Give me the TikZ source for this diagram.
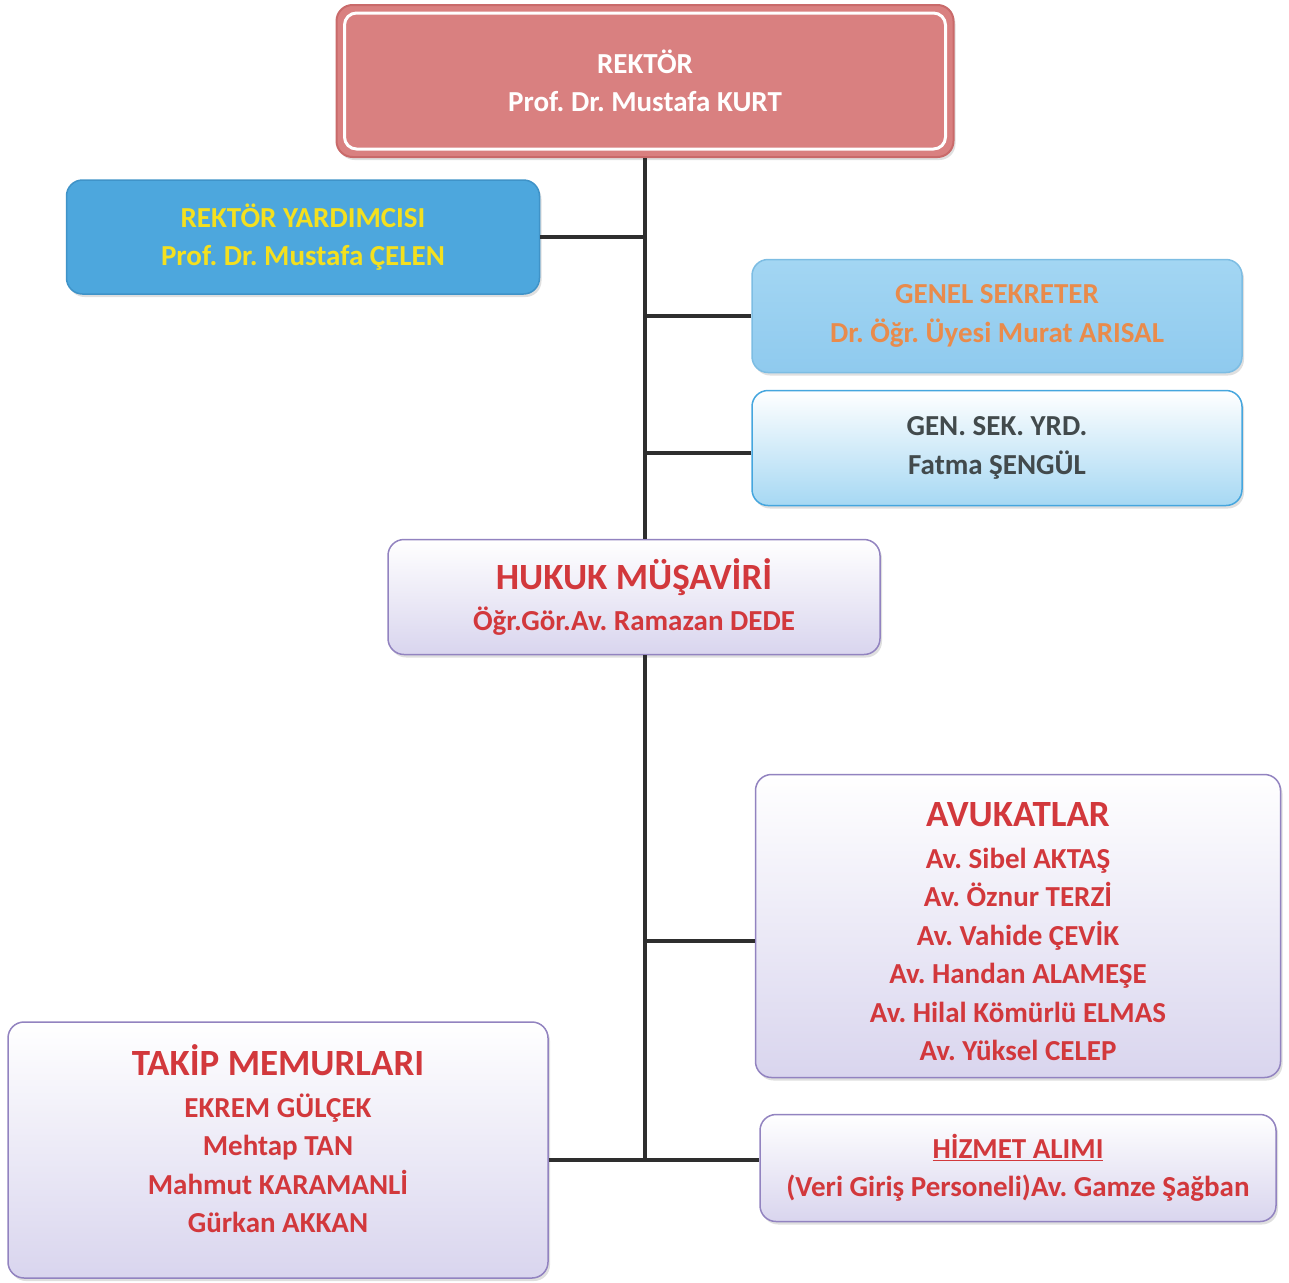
\documentclass[tikz,border=0pt]{standalone}
\usepackage{fontspec}
\setmainfont{Carlito}
\usetikzlibrary{shadows}
\definecolor{rose}{HTML}{D98080}
\definecolor{roseline}{HTML}{C96A6A}
\definecolor{sky}{HTML}{4DA7DD}
\definecolor{skyline}{HTML}{3F93C8}
\definecolor{pale}{HTML}{8FCAEE}
\definecolor{paletop}{HTML}{A3D6F3}
\definecolor{paleline}{HTML}{7DBDE3}
\definecolor{ice}{HTML}{A6D8F3}
\definecolor{iceline}{HTML}{45A6DE}
\definecolor{lav}{HTML}{D9D5EE}
\definecolor{lavline}{HTML}{9283C0}
\definecolor{yell}{HTML}{F4E01F}
\definecolor{orng}{HTML}{E98B4B}
\definecolor{slate}{HTML}{424A4C}
\definecolor{crim}{HTML}{D2383C}
\definecolor{trunk}{HTML}{2E2E2E}
\newcommand{\bighead}[1]{{\fontsize{37}{44}\selectfont #1}}
\tikzset{
  box/.style={rounded corners=16pt, align=center, line width=1.5pt, font=\fontsize{29}{38.5}\selectfont\bfseries\frenchspacing,
    drop shadow={opacity=0.25, shadow xshift=2pt, shadow yshift=-3pt}},
  rkt/.style={box, draw=roseline, fill=rose, text=white, line width=2pt},
  ryd/.style={box, draw=skyline, fill=sky, text=yell},
  gsk/.style={box, draw=paleline, top color=paletop, bottom color=pale, text=orng},
  gsy/.style={box, draw=iceline, top color=white, bottom color=ice, text=slate},
  pbox/.style={box, draw=lavline, top color=white, bottom color=lav, text=crim},
  link/.style={draw=trunk, line width=4pt},
}
\begin{document}
\begin{tikzpicture}[x=1pt, y=-1pt]
  \useasboundingbox (0,0) rectangle (1289,1282);
  \node[rkt, minimum width=617pt, minimum height=152pt] (rektor) at (645,81) {REKTÖR\\Prof. Dr. Mustafa KURT};
  \draw[white, line width=3pt, rounded corners=12pt] ([xshift=9pt,yshift=-9pt]rektor.north west) rectangle ([xshift=-9pt,yshift=9pt]rektor.south east);
  \node[ryd, minimum width=473pt, minimum height=114pt] (ryd) at (303,237) {REKTÖR YARDIMCISI\\Prof. Dr. Mustafa ÇELEN};
  \node[gsk, minimum width=490pt, minimum height=113pt] (gsk) at (997,316) {GENEL SEKRETER\\Dr. Öğr. Üyesi Murat ARISAL};
  \node[gsy, minimum width=490pt, minimum height=115pt] (gsy) at (997,448) {GEN. SEK. YRD.\\Fatma ŞENGÜL};
  \node[pbox, minimum width=492pt, minimum height=115pt] (hukuk) at (634,597) {\bighead{HUKUK MÜŞAVİRİ}\\[3pt]Öğr.Gör.Av. Ramazan DEDE};
  \node[pbox, minimum width=525pt, minimum height=303pt] (avk) at (1018,926) {\bighead{\rule{0pt}{36pt}AVUKATLAR}\\[3pt]Av. Sibel AKTAŞ\\Av. Öznur TERZİ\\Av. Vahide ÇEVİK\\Av. Handan ALAMEŞE\\Av. Hilal Kömürlü ELMAS\\Av. Yüksel CELEP};
  \node[pbox, minimum width=540pt, minimum height=256pt] (takip) at (278,1150) {\bighead{TAKİP MEMURLARI}\\[3pt]EKREM GÜLÇEK\\Mehtap TAN\\Mahmut KARAMANLİ\\Gürkan AKKAN\\[-16pt]};
  \node[pbox, minimum width=516pt, minimum height=107pt] (hizmet) at (1018,1168) {\underline{HİZMET ALIMI}\\(Veri Giriş Personeli)Av. Gamze Şağban};
  \coordinate (base) at (645,1160);
  % trunk and branches
  \draw[link] (rektor.south) -- (rektor.south |- hukuk.north);
  \draw[link] (rektor.south |- hukuk.south) -- (base);
  \draw[link] (ryd.east) -- (ryd.east -| rektor.south);
  \draw[link] (gsk.west) -- (gsk.west -| rektor.south);
  \draw[link] ([yshift=-5pt]gsy.west) -- ([yshift=-5pt]gsy.west -| rektor.south);
  \draw[link] ([yshift=-15pt]avk.west) -- ([yshift=-15pt]avk.west -| rektor.south);
  \draw[link] (takip.east |- base) -- (hizmet.west |- base);
\end{tikzpicture}
\end{document}
